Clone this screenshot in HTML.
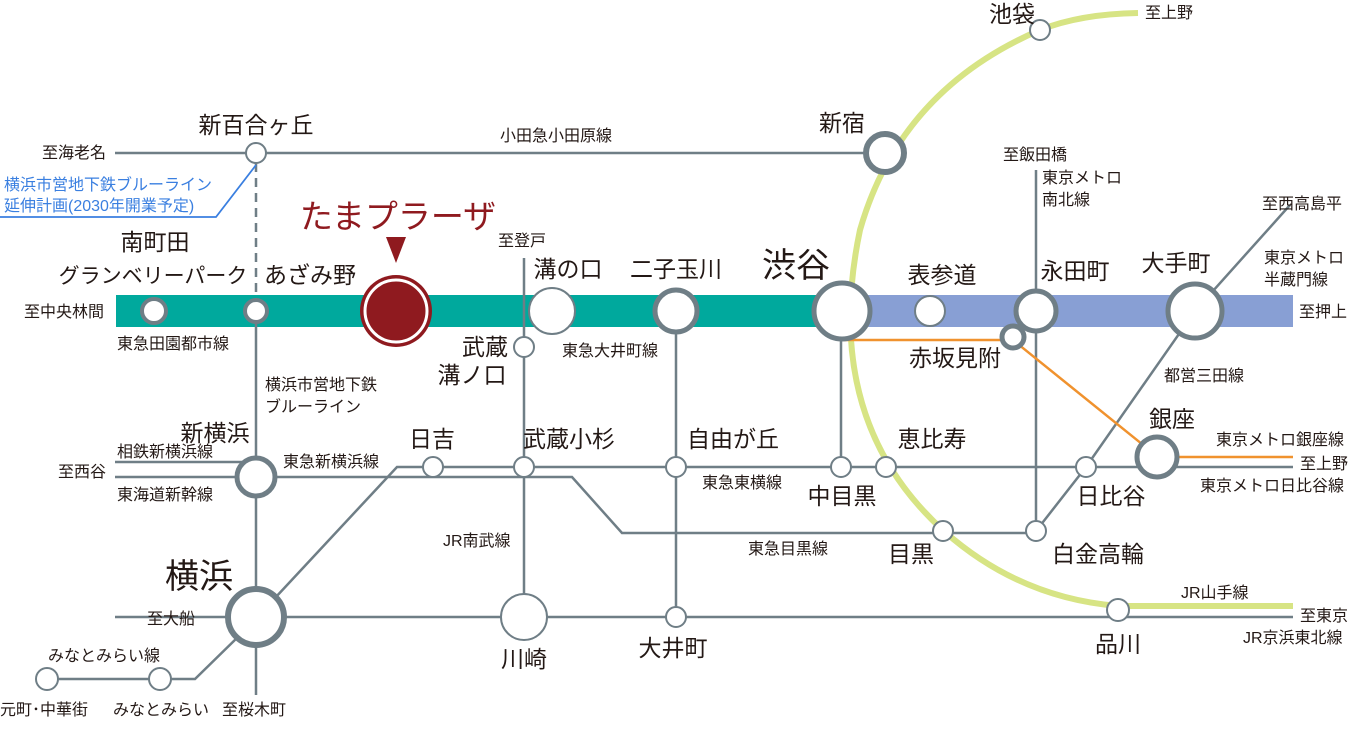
<!DOCTYPE html>
<html><head><meta charset="utf-8"><style>
html,body{margin:0;padding:0;background:#fff;}
svg{display:block;font-family:"Liberation Sans","Noto Sans CJK JP",sans-serif;}
.s{font-size:16px;fill:#231815;}
.m{font-size:23px;fill:#231815;}
.l{font-size:34px;fill:#231815;}
</style></head><body>
<svg width="1353" height="735" viewBox="0 0 1353 735" xmlns="http://www.w3.org/2000/svg">
<g fill="none" stroke="#6f7e86" stroke-width="2.5">
<rect x="116" y="295" width="730" height="32" fill="#00a99d" stroke="none"/>
<rect x="842" y="295" width="451" height="32" fill="#889fd4" stroke="none"/>
<path d="M1138,13 Q1080,14 1040,30 Q900,90 860,230 Q820,420 945,532 Q1020,598 1118,606 L1293,606" stroke="#d7e484" stroke-width="6"/>
<line x1="115" y1="153" x2="885" y2="153"/>
<line x1="256" y1="163" x2="256" y2="300" stroke-dasharray="9,6"/>
<polyline points="0,217 216,217 256,165" stroke="#3a7fe0" stroke-width="1.8"/>
<line x1="256" y1="311" x2="256" y2="695"/>
<line x1="115" y1="462" x2="256" y2="462"/>
<line x1="115" y1="477" x2="256" y2="477"/>
<polyline points="256,477 572,477 622,533 1036,533"/>
<polyline points="275,598 397,467 1293,467"/>
<line x1="524" y1="258" x2="524" y2="617"/>
<line x1="676" y1="311" x2="676" y2="617"/>
<line x1="841" y1="311" x2="841" y2="467"/>
<line x1="1036" y1="170" x2="1036" y2="531"/>
<polyline points="1036,531 1086,467 1195,311 1290,205"/>
<line x1="115" y1="617" x2="1293" y2="617"/>
<polyline points="47,679 195,679 240,635"/>
<polyline points="842,340 1013,340 1158,457 1293,457" stroke="#f0922e"/>
</g>
<g fill="#fff" stroke="#6f7e86">
<circle cx="256" cy="153" r="10" stroke-width="2"/>
<circle cx="885" cy="153" r="19" stroke-width="6"/>
<circle cx="1040" cy="30" r="10" stroke-width="2"/>
<circle cx="154" cy="311" r="12" stroke-width="4"/>
<circle cx="256" cy="311" r="11" stroke-width="4"/>
<circle cx="552" cy="311" r="23" stroke-width="2"/>
<circle cx="676" cy="311" r="21" stroke-width="5"/>
<circle cx="842" cy="311" r="28" stroke-width="5"/>
<circle cx="930" cy="311" r="15" stroke-width="2"/>
<circle cx="1036" cy="311" r="20" stroke-width="5"/>
<circle cx="1013" cy="337" r="11" stroke-width="5"/>
<circle cx="1195" cy="311" r="27" stroke-width="5"/>
<circle cx="524" cy="347" r="10" stroke-width="2"/>
<circle cx="256" cy="477" r="19" stroke-width="5"/>
<circle cx="433" cy="467" r="10" stroke-width="2"/>
<circle cx="524" cy="467" r="10" stroke-width="2"/>
<circle cx="676" cy="467" r="10" stroke-width="2"/>
<circle cx="841" cy="467" r="10" stroke-width="2"/>
<circle cx="886" cy="467" r="10" stroke-width="2"/>
<circle cx="1086" cy="467" r="10" stroke-width="2"/>
<circle cx="1157" cy="457" r="20" stroke-width="5"/>
<circle cx="943" cy="531" r="10" stroke-width="2"/>
<circle cx="1036" cy="531" r="10" stroke-width="2"/>
<circle cx="256" cy="617" r="28" stroke-width="6"/>
<circle cx="524" cy="617" r="23" stroke-width="2"/>
<circle cx="676" cy="617" r="10" stroke-width="2"/>
<circle cx="1118" cy="610" r="11" stroke-width="2"/>
<circle cx="47" cy="679" r="11" stroke-width="2"/>
<circle cx="160" cy="679" r="11" stroke-width="2"/>
<circle cx="396" cy="311" r="36" fill="#8f1a1f" stroke="none"/>
<circle cx="396" cy="311" r="31" fill="#8f1a1f" stroke="#fff" stroke-width="3"/>
</g>
<polygon points="386,237 406,237 396,263" fill="#8f1a1f"/>
<text x="398" y="228" text-anchor="middle" font-size="33" fill="#8f1a1f">たまプラーザ</text>
<g class="m" text-anchor="middle">
<text x="256" y="133">新百合ヶ丘</text>
<text x="842" y="131">新宿</text>
<text x="1012" y="22">池袋</text>
<text x="155" y="250">南町田</text>
<text x="153" y="283" font-size="21">グランベリーパーク</text>
<text x="310" y="283">あざみ野</text>
<text x="568" y="277">溝の口</text>
<text x="676" y="277">二子玉川</text>
<text x="942" y="283">表参道</text>
<text x="1075" y="279">永田町</text>
<text x="1176" y="271">大手町</text>
<text x="955" y="366">赤坂見附</text>
<text x="485" y="355">武蔵</text>
<text x="472" y="383">溝ノ口</text>
<text x="215" y="441">新横浜</text>
<text x="432" y="447">日吉</text>
<text x="569" y="447">武蔵小杉</text>
<text x="733" y="447">自由が丘</text>
<text x="932" y="447">恵比寿</text>
<text x="842" y="504">中目黒</text>
<text x="1111" y="504">日比谷</text>
<text x="1172" y="427">銀座</text>
<text x="911" y="562">目黒</text>
<text x="1098" y="562">白金高輪</text>
<text x="524" y="667">川崎</text>
<text x="673" y="656">大井町</text>
<text x="1118" y="652">品川</text>
</g>
<text x="762" y="277" class="l">渋谷</text>
<text x="165" y="588" class="l">横浜</text>
<g class="s">
<text x="42" y="158">至海老名</text>
<text x="500" y="141">小田急小田原線</text>
<text x="4" y="190" style="fill:#3a7fe0">横浜市営地下鉄ブルーライン</text>
<text x="4" y="211" style="fill:#3a7fe0">延伸計画(2030年開業予定)</text>
<text x="24" y="317">至中央林間</text>
<text x="117" y="349">東急田園都市線</text>
<text x="498" y="246">至登戸</text>
<text x="562" y="356">東急大井町線</text>
<text x="265" y="390">横浜市営地下鉄</text>
<text x="265" y="412">ブルーライン</text>
<text x="117" y="457">相鉄新横浜線</text>
<text x="58" y="477">至西谷</text>
<text x="117" y="500">東海道新幹線</text>
<text x="283" y="467">東急新横浜線</text>
<text x="443" y="546">JR南武線</text>
<text x="702" y="488">東急東横線</text>
<text x="748" y="554">東急目黒線</text>
<text x="147" y="624">至大船</text>
<text x="48" y="661">みなとみらい線</text>
<text x="0" y="715">元町･中華街</text>
<text x="113" y="715">みなとみらい</text>
<text x="222" y="715">至桜木町</text>
<text x="1145" y="18">至上野</text>
<text x="1003" y="160">至飯田橋</text>
<text x="1042" y="183">東京メトロ</text>
<text x="1042" y="205">南北線</text>
<text x="1262" y="209">至西高島平</text>
<text x="1264" y="263">東京メトロ</text>
<text x="1264" y="285">半蔵門線</text>
<text x="1299" y="317">至押上</text>
<text x="1164" y="381">都営三田線</text>
<text x="1216" y="445">東京メトロ銀座線</text>
<text x="1300" y="469">至上野</text>
<text x="1200" y="491">東京メトロ日比谷線</text>
<text x="1181" y="598">JR山手線</text>
<text x="1300" y="621">至東京</text>
<text x="1243" y="643">JR京浜東北線</text>
</g>
</svg>
</body></html>
